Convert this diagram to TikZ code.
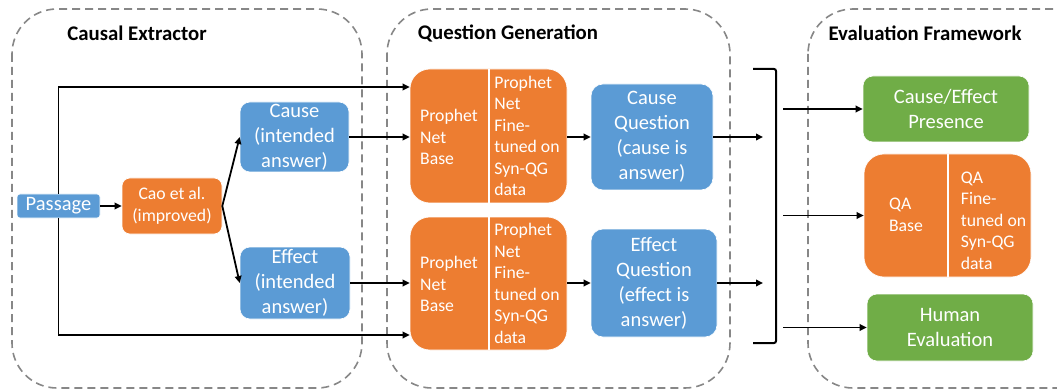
\documentclass[tikz,border=0pt]{standalone}
\usepackage{fontspec}
\setmainfont{Carlito}
\usetikzlibrary{arrows.meta,calc}
\definecolor{cblue}{RGB}{91,155,213}
\definecolor{corange}{RGB}{237,125,49}
\definecolor{cgreen}{RGB}{112,173,71}
\definecolor{cdash}{RGB}{135,135,135}
\tikzset{
  box/.style={inner sep=0pt, text=white, align=center, font=\fontsize{20.5}{25}\selectfont},
  bluebox/.style={box, fill=cblue, draw=white, line width=0.6pt},
  orangebox/.style={box, fill=corange, draw=white, line width=0.6pt},
  greenbox/.style={box, fill=cgreen, draw=white, line width=0.6pt},
  smalltext/.style={inner sep=0pt, text=white, align=left, font=\fontsize{17.7}{21.5}\selectfont},
  panel/.style={draw=cdash, line width=1.6pt, dash pattern=on 8pt off 5pt, rounded corners=45pt},
  paneltitle/.style={inner sep=0pt, font=\fontsize{20.8}{24}\selectfont\bfseries},
  arr/.style={-{Triangle[length=7pt,width=6.5pt]}, line width=1.8pt},
  divider/.style={draw=white, line width=2pt}
}
\begin{document}
\begin{tikzpicture}[x=1pt,y=-1pt]
\useasboundingbox (0,0) rectangle (1057,390);
\clip (0,0) rectangle (1057,390);

% panels
\draw[panel] (12,9) rectangle (362,388);
\draw[panel] (387,9) rectangle (730,388);
\draw[panel] (808,9) rectangle (1110,388);
\node[paneltitle] (t1) at (137,33) {Causal Extractor};
\node[paneltitle] (t2) at (508,33) {Question Generation};
\node[paneltitle] (t3) at (925,33) {Evaluation Framework};

% coordinates for connectors
\coordinate (ytop) at (0,87);
\coordinate (ybot) at (0,335);
\coordinate (bin) at (763,0);
\coordinate (bout) at (783,0);
\coordinate (brtl) at (753,69);
\coordinate (brtr) at (776,69);
\coordinate (brbr) at (776,343);
\coordinate (brbl) at (753,343);

% left panel nodes
\node[bluebox, rounded corners=3pt, minimum width=83pt, minimum height=24pt] (pass) at (58.5,206) {Passage};
\node[orangebox, rounded corners=8pt, minimum width=100pt, minimum height=56pt, font=\fontsize{17.7}{21.5}\selectfont] (cao) at (172,206) {Cao et al.\\(improved)};
\node[bluebox, rounded corners=10pt, minimum width=109pt, minimum height=70pt] (cause) at (294.5,137) {Cause\\(intended\\answer)};
\node[bluebox, rounded corners=10pt, minimum width=110pt, minimum height=72pt] (effect) at (295,283) {Effect\\(intended\\answer)};

% middle panel nodes
\node[orangebox, rounded corners=20pt, minimum width=157pt, minimum height=134pt] (pn1) at (488.5,136) {};
\draw[divider] (pn1.north) -- (pn1.south);
\node[smalltext] (pn1a) at (449,137) {Prophet\\Net\\Base};
\node[smalltext] (pn1b) at (527,136) {Prophet\\Net\\Fine-\\tuned on\\Syn-QG\\data};

\node[orangebox, rounded corners=20pt, minimum width=157pt, minimum height=133pt] (pn2) at (488.5,283.5) {};
\draw[divider] (pn2.north) -- (pn2.south);
\node[smalltext] (pn2a) at (449,284) {Prophet\\Net\\Base};
\node[smalltext] (pn2b) at (527,283.5) {Prophet\\Net\\Fine-\\tuned on\\Syn-QG\\data};

\node[bluebox, rounded corners=12pt, minimum width=122pt, minimum height=106pt] (cq) at (652,137) {Cause\\Question\\(cause is\\answer)};
\node[bluebox, rounded corners=12pt, minimum width=126pt, minimum height=108pt] (eq) at (654,283) {Effect\\Question\\(effect is\\answer)};

% right panel nodes
\node[greenbox, rounded corners=10pt, minimum width=166pt, minimum height=66pt] (ce) at (946,109) {Cause/Effect\\Presence};
\node[orangebox, rounded corners=20pt, minimum width=167pt, minimum height=123pt] (qa) at (947.5,215.5) {};
\draw[divider] (qa.north) -- (qa.south);
\node[smalltext] (qaa) at (906,215) {QA\\Base};
\node[smalltext] (qab) at (993.5,220.5) {QA\\Fine-\\tuned on\\Syn-QG\\data};
\node[greenbox, rounded corners=10pt, minimum width=166pt, minimum height=67pt] (he) at (950,327.5) {Human\\Evaluation};

% connectors
\draw[arr] (pass.north) |- (ytop -| pn1.west);
\draw[arr] (pass.south) |- (ybot -| pn2.west);
\draw[arr] (pass) -- (cao);
\draw[arr] (cao.east) -- (cause.west);
\draw[arr] (cao.east) -- (effect.west);
\draw[arr] (cause.east) -- (cause.east -| pn1.west);
\draw[arr] (effect.east) -- (effect.east -| pn2.west);
\draw[arr] (pn1.east |- cq.west) -- (cq.west);
\draw[arr] (pn2.east |- eq.west) -- (eq.west);
\draw[arr] (cq.east) -- (cq.east -| bin);
\draw[arr] (eq.east) -- (eq.east -| bin);
\draw[line width=2pt, rounded corners=2pt] (brtl) -- (brtr) -- (brbr) -- (brbl);
\draw[arr] (ce.west -| bout) -- (ce.west);
\draw[arr] (qa.west -| bout) -- (qa.west);
\draw[arr] (he.west -| bout) -- (he.west);
\end{tikzpicture}
\end{document}
